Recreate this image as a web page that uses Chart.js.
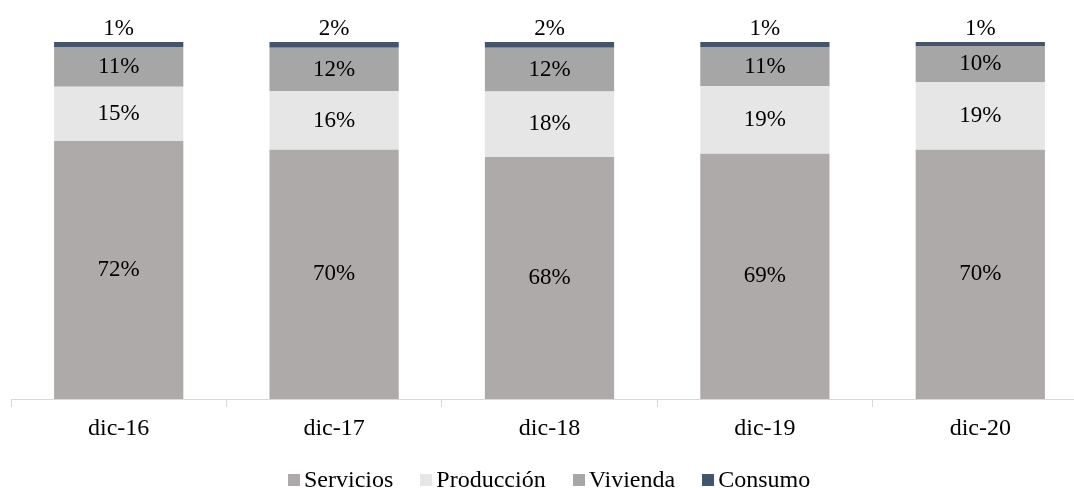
<!DOCTYPE html>
<html>
<head>
<meta charset="utf-8">
<script src="https://cdn.jsdelivr.net/npm/chart.js@4"></script>
<style>
  body { margin: 0; overflow: hidden; background: #fff; }
  #wrap { position: relative; width: 1090px; height: 488px; }
  #leyenda { position: absolute; left: 288px; top: 467px; font: 24px "Liberation Serif", "Times New Roman", serif; color: #000; white-space: nowrap; line-height: 24px; }
  #leyenda span.item { display: inline-block; margin-right: 27px; }
  #leyenda i { display: inline-block; width: 12px; height: 12px; margin-right: 4px; vertical-align: 1px; }
</style>
</head>
<body>
<div id="wrap">
  <canvas id="grafico" width="1090" height="488"></canvas>
  <div id="leyenda"></div>
</div>
<script>
// Categorías (fechas)
const periodos = ['dic-16', 'dic-17', 'dic-18', 'dic-19', 'dic-20'];

// Participación por destino (%)
const servicios = [72.3, 69.8, 67.8, 68.7, 69.8];
const produccion = [15.2, 16.4, 18.3, 18.9, 19.0];
const vivienda = [11.1, 12.2, 12.3, 11.0, 10.1];
const consumo = [1.4, 1.6, 1.6, 1.4, 1.1];

const series = [
    { label: 'Servicios', data: servicios, color: '#AEAAAA' },
    { label: 'Producción', data: produccion, color: '#E6E6E6' },
    { label: 'Vivienda', data: vivienda, color: '#A6A6A6' },
    { label: 'Consumo', data: consumo, color: '#44546A' },
];

const fuente = '"Liberation Serif", "Times New Roman", serif';

// Etiquetas de porcentaje sobre cada segmento
const etiquetas = {
    id: 'etiquetas',
    afterDatasetsDraw(chart) {
        const ctx = chart.ctx;
        ctx.save();
        ctx.font = '23px ' + fuente;
        ctx.fillStyle = '#000';
        ctx.textAlign = 'center';
        ctx.textBaseline = 'middle';
        chart.data.datasets.forEach((ds, i) => {
            const meta = chart.getDatasetMeta(i);
            meta.data.forEach((bar, j) => {
                const txt = Math.round(ds.data[j]) + '%';
                let y = (bar.y + bar.base) / 2;
                if (i === chart.data.datasets.length - 1) y = bar.y - 13;
                ctx.fillText(txt, bar.x, y);
            });
        });
        ctx.restore();
    }
};

const ctx = document.getElementById('grafico').getContext('2d');
new Chart(ctx, {
    type: 'bar',
    data: {
        labels: periodos,
        datasets: series.map(s => ({
            label: s.label,
            data: s.data,
            backgroundColor: s.color,
            borderWidth: 0,
            categoryPercentage: 1,
            barPercentage: 0.6,
        }))
    },
    options: {
        responsive: false,
        animation: false,
        layout: { padding: { top: 42, left: 11, right: 2, bottom: 0 } },
        plugins: {
            legend: { display: false },
            tooltip: { enabled: false },
        },
        scales: {
            x: {
                stacked: true,
                grid: { offset: true, drawOnChartArea: false, tickLength: 8, color: '#D9D9D9', lineWidth: 1 },
                border: { color: '#D9D9D9', width: 1 },
                ticks: { color: '#000', font: { family: fuente, size: 24 }, padding: 7, maxRotation: 0 },
                afterFit(scale) { scale.height = 89; }
            },
            y: {
                stacked: true,
                display: false,
                min: 0,
                max: 100,
            }
        }
    },
    plugins: [etiquetas]
});

// Leyenda
const leyenda = document.getElementById('leyenda');
series.forEach(s => {
    const item = document.createElement('span');
    item.className = 'item';
    item.innerHTML = `<i style="background:${s.color}"></i>${s.label}`;
    leyenda.appendChild(item);
});
</script>
</body>
</html>
